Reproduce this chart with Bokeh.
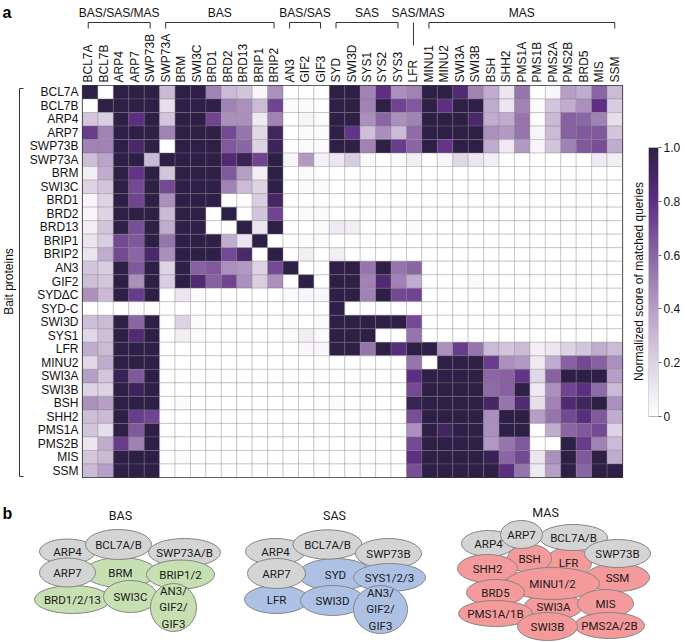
import numpy as np
from bokeh.plotting import figure
from bokeh.models import (Range1d, FixedTicker, LinearAxis, ColumnDataSource, LinearColorMapper)
from bokeh.layouts import row, column
from bokeh.embed import file_html
from bokeh.resources import INLINE
from bokeh.core.properties import value
from bokeh.transform import linear_cmap

# ---------------- data ----------------
bait_proteins = ["BCL7A", "BCL7B", "ARP4", "ARP7", "SWP73B", "SWP73A", "BRM", "SWI3C", "BRD1",
                 "BRD2", "BRD13", "BRIP1", "BRIP2", "AN3", "GIF2", "SYDΔC", "SYD-C", "SWI3D",
                 "SYS1", "LFR", "MINU2", "SWI3A", "SWI3B", "BSH", "SHH2", "PMS1A", "PMS2B",
                 "MIS", "SSM"]
matched_proteins = ["BCL7A", "BCL7B", "ARP4", "ARP7", "SWP73B", "SWP73A", "BRM", "SWI3C", "BRD1",
                    "BRD2", "BRD13", "BRIP1", "BRIP2", "AN3", "GIF2", "GIF3", "SYD", "SWI3D",
                    "SYS1", "SYS2", "SYS3", "LFR", "MINU1", "MINU2", "SWI3A", "SWI3B", "BSH",
                    "SHH2", "PMS1A", "PMS1B", "PMS2A", "PMS2B", "BRD5", "MIS", "SSM"]

# normalized score of matched queries, one row per bait protein
scores = [
    [1, 0, 1, 1, 1, 0.3, 1, 1, 0.5, 0.3, 0.25, 0.05, 0.45, 0, 0, 0, 1, 1, 0.5, 0.8, 0.45, 0.5, 1, 1, 0.85, 0.5, 0.35, 0.12, 0.55, 0, 0.05, 0.4, 0.35, 0.6, 0.3],
    [0, 1, 1, 1, 1, 0.15, 1, 1, 1, 0.5, 0.45, 0.3, 0.72, 0.03, 0.02, 0, 1, 1, 0.5, 1, 0.72, 0.65, 1, 0.8, 1, 1, 0.35, 0.12, 0.5, 0.03, 0.25, 0.35, 0.45, 0.8, 0.22],
    [0.25, 0.22, 1, 0.8, 1, 0.25, 1, 1, 0.72, 0.45, 0.45, 0.1, 0.5, 0, 0.05, 0.02, 1, 1, 0.45, 0.6, 0.45, 0.5, 1, 1, 1, 0.88, 0.35, 0.35, 0.55, 0.02, 0.3, 0.62, 0.6, 0.5, 0.15],
    [0.75, 0.5, 1, 1, 1, 0.5, 1, 1, 1, 0.7, 0.55, 0.18, 0.92, 0, 0.03, 0.02, 1, 0.78, 0.28, 0.45, 0.3, 0.58, 1, 1, 1, 1, 0.45, 0.42, 0.55, 0.05, 0.3, 0.62, 0.65, 0.65, 0.25],
    [0.5, 0.5, 1, 0.88, 1, 0, 1, 1, 1, 0.65, 0.6, 0.2, 0.93, 0, 0.03, 0.02, 1, 1, 0.5, 1, 0.75, 0.6, 1, 0.78, 1, 1, 0.35, 0.1, 0.42, 0.05, 0.25, 0.5, 0.65, 0.68, 0.35],
    [0.28, 0.38, 1, 1, 0.3, 1, 1, 1, 1, 0.85, 0.95, 0.72, 1, 0.05, 0.42, 0.07, 0.12, 0.22, 0.03, 0, 0.03, 0.08, 0, 0.05, 0.18, 0.12, 0.08, 0, 0, 0, 0, 0, 0, 0.1, 0.08],
    [0.08, 0.35, 1, 0.78, 1, 0.25, 1, 1, 1, 0.65, 0.4, 0.08, 1, 0, 0.02, 0, 0, 0, 0, 0, 0, 0, 0, 0, 0, 0, 0, 0, 0, 0, 0, 0, 0, 0, 0],
    [0.2, 0.25, 1, 0.7, 1, 0.7, 1, 1, 1, 0.5, 0.3, 0.2, 1, 0, 0.02, 0.02, 0, 0, 0, 0, 0, 0, 0, 0, 0, 0, 0, 0, 0, 0, 0, 0, 0, 0, 0],
    [0.05, 0.2, 1, 0.72, 1, 0.45, 1, 1, 1, 0, 0, 0.22, 0.9, 0, 0, 0, 0, 0, 0, 0, 0, 0, 0, 0, 0, 0, 0, 0, 0, 0, 0, 0, 0, 0, 0],
    [0.05, 0.2, 1, 1, 1, 0.3, 1, 1, 0, 1, 0, 0.25, 0.72, 0, 0.03, 0.02, 0, 0, 0, 0, 0, 0, 0, 0, 0, 0, 0, 0, 0, 0, 0, 0, 0, 0, 0],
    [0.08, 0.25, 1, 0.68, 1, 0.35, 1, 1, 0, 0, 1, 0.12, 1, 0, 0, 0.02, 0.1, 0.08, 0, 0, 0, 0.02, 0, 0, 0, 0, 0, 0, 0, 0, 0, 0, 0, 0, 0],
    [0.12, 0.22, 0.7, 0.65, 1, 0.55, 1, 1, 1, 0.35, 0.12, 1, 0, 0, 0.02, 0.02, 0, 0, 0, 0, 0, 0, 0, 0, 0, 0, 0, 0, 0, 0, 0, 0, 0, 0, 0],
    [0.12, 0.35, 0.7, 0.6, 0.88, 0.45, 1, 1, 1, 0.7, 0.88, 0, 1, 0, 0.08, 0, 0.08, 0, 0, 0, 0, 0, 0, 0, 0, 0, 0, 0, 0, 0, 0, 0, 0, 0, 0],
    [0.25, 0.22, 1, 0.65, 1, 0.2, 1, 0.62, 0.65, 0.45, 0.42, 0.2, 0.7, 1, 0, 0, 1, 1, 0.55, 1, 0.55, 0.6, 0, 0, 0, 0, 0, 0, 0, 0, 0, 0, 0, 0, 0],
    [0.28, 0.25, 1, 0.45, 1, 0.22, 1, 0.85, 0.62, 0.72, 0.45, 0.22, 0.45, 0, 1, 0, 1, 1, 0.5, 0.85, 0.5, 0.35, 0, 0, 0, 0.03, 0, 0, 0, 0, 0, 0, 0, 0, 0],
    [0.45, 0.3, 1, 0.75, 1, 0, 0.12, 0.03, 0, 0, 0, 0, 0, 0.03, 0.04, 0.04, 1, 1, 0.5, 1, 0.7, 0.72, 0, 0, 0, 0, 0, 0, 0, 0, 0, 0, 0, 0, 0],
    [0, 0, 0, 0.02, 0, 0, 0, 0, 0, 0, 0, 0, 0, 0, 0, 0, 1, 0, 0, 0, 0, 0, 0, 0, 0, 0, 0, 0, 0, 0, 0, 0, 0, 0, 0],
    [0.28, 0.3, 1, 0.6, 1, 0, 0.2, 0.03, 0, 0, 0, 0, 0, 0.02, 0, 0.02, 1, 1, 1, 1, 1, 0.7, 0, 0, 0, 0, 0, 0, 0, 0, 0, 0, 0, 0, 0],
    [0.18, 0.28, 1, 0.85, 1, 0, 0.08, 0.02, 0, 0, 0, 0, 0, 0.02, 0.08, 0.03, 1, 1, 1, 0, 0, 0.55, 0, 0, 0, 0, 0, 0, 0, 0, 0, 0, 0, 0, 0],
    [0.35, 0.3, 1, 1, 1, 0, 0, 0, 0, 0, 0, 0, 0, 0, 0.04, 0.04, 1, 1, 0.55, 1, 0.82, 1, 1, 0.45, 0.75, 0.55, 0.3, 0.25, 0.3, 0.08, 0.12, 0.2, 0.25, 0.35, 0.3],
    [0.18, 0.35, 1, 1, 1, 0, 0, 0, 0, 0, 0, 0, 0, 0, 0, 0, 0, 0, 0, 0, 0, 0.55, 0, 1, 1, 1, 0.75, 0.45, 0.42, 0.1, 0.35, 0.62, 0.7, 0.62, 0.45],
    [0.4, 0.25, 0.95, 0.65, 1, 0, 0, 0, 0, 0, 0, 0, 0, 0, 0, 0, 0, 0, 0, 0, 0, 0.8, 1, 1, 1, 1, 0.6, 0.62, 0.78, 0.18, 0.62, 1, 1, 1, 0.4],
    [0.2, 0.2, 1, 0.93, 1, 0, 0, 0, 0, 0, 0, 0, 0, 0, 0, 0, 0, 0, 0, 0, 0, 0.7, 1, 1, 1, 1, 0.58, 0.62, 1, 0.1, 0.45, 0.72, 0.8, 0.58, 0.3],
    [0.45, 0.4, 1, 1, 1, 0, 0.02, 0, 0, 0, 0, 0, 0, 0, 0, 0, 0.02, 0, 0, 0, 0, 0.95, 1, 1, 1, 1, 0.9, 0.55, 0.85, 0.15, 0.5, 0.85, 0.92, 1, 0.45],
    [0.28, 0.3, 1, 0.75, 0.72, 0, 0, 0, 0, 0, 0, 0, 0, 0, 0, 0, 0, 0, 0, 0, 0, 0.68, 1, 1, 1, 1, 0.45, 1, 1, 0.4, 0.55, 0.7, 0.82, 0.65, 0.35],
    [0.25, 0.15, 1, 0.65, 1, 0, 0, 0, 0, 0, 0, 0, 0, 0, 0, 0, 0, 0, 0, 0, 0, 0.45, 1, 0.92, 1, 1, 0.45, 1, 1, 0, 0.35, 0.6, 0.65, 0.7, 0.2],
    [0.12, 0.35, 0.75, 0.5, 1, 0, 0, 0, 0, 0, 0, 0, 0, 0, 0, 0, 0, 0, 0, 0, 0, 0.7, 1, 1, 1, 1, 0.42, 0.55, 0.65, 0, 0, 1, 0.75, 0.5, 0.3],
    [0.25, 0.3, 1, 1, 1, 0, 0.02, 0, 0, 0, 0, 0, 0, 0, 0, 0, 0, 0, 0, 0, 0, 0.8, 1, 1, 1, 1, 0.95, 0.6, 0.7, 0.12, 0.45, 1, 0.65, 1, 0.35],
    [0.3, 0.4, 1, 1, 1, 0, 0, 0, 0, 0, 0, 0, 0, 0, 0, 0, 0, 0, 0, 0, 0, 0.68, 1, 1, 1, 1, 1, 0.8, 0.55, 0.1, 0.4, 1, 0.6, 1, 1],
]
assert len(scores) == len(bait_proteins)
assert all(len(r) == len(matched_proteins) for r in scores)

# complex groups over the matched-protein columns
group_labels = ["BAS/SAS/MAS", "BAS", "BAS/SAS", "SAS", "SAS/MAS", "MAS"]
group_first = ["BCL7A", "SWP73A", "AN3", "SYD", "LFR", "MINU1"]
group_last = ["SWP73B", "BRIP2", "GIF3", "SYS3", "LFR", "SSM"]

cbar_ticks = [0, 0.2, 0.4, 0.6, 0.8, 1.0]
cbar_tick_labels = ["0", "0.2", "0.4", "0.6", "0.8", "1.0"]

# panel b: subunit composition of each complex ("c" = shared core, "s" = specific)
complex_names = ["BAS", "SAS", "MAS"]
complex_subunits = [
    ["BRM", "BRD1/2/13", "ARP4", "BCL7A/B", "SWP73A/B", "ARP7", "SWI3C", "BRIP1/2", "AN3/\nGIF2/\nGIF3"],
    ["SYD", "LFR", "ARP4", "BCL7A/B", "SWP73B", "ARP7", "SWI3D", "SYS1/2/3", "AN3/\nGIF2/\nGIF3"],
    ["SSM", "LFR", "BSH", "SWI3A", "ARP4", "BCL7A/B", "ARP7", "SWP73B", "SHH2", "MINU1/2", "BRD5",
     "MIS", "PMS1A/1B", "PMS2A/2B", "SWI3B"],
]
complex_kinds = [
    ["s", "s", "c", "c", "c", "c", "s", "s", "s"],
    ["s", "s", "c", "c", "c", "c", "s", "s", "s"],
    ["s", "s", "s", "s", "c", "c", "c", "c", "s", "s", "s", "s", "s", "s", "s"],
]

# ---------------- layout / style (diagram geometry in page pixels) ----------------
diagram_layout = [
    [(120, 572, 36, 15), (72, 599, 38, 14), (67, 551, 28, 12.5), (118, 544, 33, 15),
     (184, 552, 36, 14), (67, 572, 28, 14.5), (130, 596, 27, 16), (180, 574, 34, 14.5),
     (173, 607, 23, 24)],
    [(335, 574, 37, 16), (276, 599, 32, 14), (275, 551, 30, 13), (327, 544, 34.5, 14.7),
     (388, 553, 33, 15), (276, 573, 29, 15), (332, 600, 32, 15), (389, 577, 36, 14),
     (380, 609, 27, 24)],
    [(617, 577, 32, 14), (568, 562, 23, 15), (529, 558, 22, 14), (553, 606, 29, 13),
     (488, 543, 27, 13), (573, 537, 34, 13), (521, 534, 21, 14), (617, 553, 33, 14),
     (487, 568, 30, 14), (552, 583, 47, 16), (495, 592, 29, 13), (605, 603, 28, 14),
     (495, 613, 37, 13), (609, 625, 35, 13), (547, 626, 30, 14)],
]
title_layout = [(120, 515), (334, 515), (545, 512)]
specific_colors = ["#c7e0b2", "#adc1e5", "#f59a9b"]
core_color = "#d4d4d4"

FONT = "Liberation Sans"
DFONT = "Roboto"
TXT = "#111111"

stops = [0.0, 0.2, 0.4, 0.6, 0.8, 1.0]
stop_colors = ["#ffffff", "#ddd3e4", "#b69fc6", "#8b66a5", "#5e2e83", "#2e1f46"]


def _hex(c):
    return np.array([int(c[i:i + 2], 16) for i in (1, 3, 5)], dtype=float)


_t = np.linspace(0, 1, 256)
_rgb = np.stack([np.interp(_t, stops, [_hex(c)[k] for c in stop_colors]) for k in range(3)], axis=1)
palette = ["#%02x%02x%02x" % tuple(int(round(v)) for v in c) for c in _rgb]

NC, NR = len(matched_proteins), len(bait_proteins)
FRAME_L, FRAME_T, FRAME_W, FRAME_H = 80, 85, 542, 392   # heatmap frame, page pixels
CW, CH = FRAME_W / NC, FRAME_H / NR
HEAD_H = 84          # header strip height
LEFT_W = 26          # strip holding "Bait proteins"
MAIN_H = 406         # heatmap figure height
BOT_H = 642 - HEAD_H - MAIN_H


def common(p):
    p.grid.visible = False
    p.background_fill_color = "white"
    p.border_fill_color = "white"
    return p


# ---------------- header strip: group brackets + column labels ----------------
def hx(px):
    return -0.5 + (px - FRAME_L) / CW


def hy(py):
    return HEAD_H - py


pH = common(figure(width=685, height=HEAD_H, x_range=Range1d(hx(0), hx(685)),
                   y_range=Range1d(0, HEAD_H), x_axis_location=None, y_axis_location=None,
                   output_backend="svg", toolbar_location=None, min_border=0))
pH.min_border_left = pH.min_border_right = pH.min_border_top = pH.min_border_bottom = 0
pH.outline_line_color = None

pH.text(x=list(range(NC)), y=[hy(82)] * NC, text=matched_proteins, angle=np.pi / 2,
        text_align="left", text_baseline="middle", text_font=value(FONT),
        text_font_size=value("12px"), text_color=TXT)

gx, gt = [], []
sx0, sy0, sx1, sy1 = [], [], [], []
y_br, y_tick, y_line = hy(22), hy(28), hy(45)
for lab, f, l in zip(group_labels, group_first, group_last):
    i0, i1 = matched_proteins.index(f), matched_proteins.index(l)
    gx.append((i0 + i1) / 2 + (0.3 if i0 == i1 else 0))
    gt.append(lab)
    if i0 == i1:
        sx0 += [i0]; sy0 += [y_br]; sx1 += [i0]; sy1 += [y_line]
    else:
        sx0 += [i0, i0, i1]; sy0 += [y_br, y_br, y_br]
        sx1 += [i1, i0, i1]; sy1 += [y_br, y_tick, y_tick]
pH.segment(x0=sx0, y0=sy0, x1=sx1, y1=sy1, line_color="#333333", line_width=1)
pH.text(x=gx, y=[hy(12)] * len(gx), text=gt, text_align="center", text_baseline="middle",
        text_font=value(FONT), text_font_size=value("12px"), text_color=TXT)
pH.text(x=[hx(2)], y=[hy(12)], text=["a"], text_align="left", text_baseline="alphabetic",
        text_font=value(FONT), text_font_style="bold", text_font_size=value("16px"),
        text_color="#000000")

# ---------------- left strip: "Bait proteins" bracket ----------------
pL = common(figure(width=LEFT_W, height=MAIN_H, x_range=Range1d(0, LEFT_W),
                   y_range=Range1d(0, FRAME_H), x_axis_location=None, y_axis_location=None,
                   output_backend="svg", toolbar_location=None, min_border=0))
pL.min_border_left = pL.min_border_right = 0
pL.min_border_top = FRAME_T - HEAD_H
pL.min_border_bottom = MAIN_H - FRAME_H - (FRAME_T - HEAD_H)
pL.outline_line_color = None
y_top, y_bot = FRAME_H - 3, 1
pL.segment(x0=[19, 19, 19], y0=[y_bot, y_top, y_bot], x1=[19, 23, 23], y1=[y_top, y_top, y_bot],
           line_color="#333333", line_width=1)
pL.text(x=[8], y=[FRAME_H / 2], text=["Bait proteins"], angle=np.pi / 2, text_align="center",
        text_baseline="middle", text_font=value(FONT), text_font_size=value("12px"),
        text_color=TXT)

# ---------------- panel a: heatmap ----------------
xs, ys, vs = [], [], []
for r, rowvals in enumerate(scores):
    for c, v in enumerate(rowvals):
        xs.append(c)
        ys.append(r)
        vs.append(v)
cells = ColumnDataSource(dict(x=xs, y=ys, v=vs))

pA = common(figure(width=FRAME_L - LEFT_W + FRAME_W + 2, height=MAIN_H,
                   x_range=Range1d(-0.5, NC - 0.5), y_range=Range1d(NR - 0.5, -0.5),
                   x_axis_location=None, output_backend="svg", toolbar_location=None))
pA.min_border_left = FRAME_L - LEFT_W
pA.min_border_right = 2
pA.min_border_top = FRAME_T - HEAD_H
pA.min_border_bottom = MAIN_H - FRAME_H - (FRAME_T - HEAD_H)
pA.rect(x="x", y="y", width=1, height=1, source=cells,
        fill_color=linear_cmap("v", palette, 0, 1), line_color="#7f7f7f", line_alpha=0.32,
        line_width=1)
pA.outline_line_color = "#262626"
pA.outline_line_width = 1.2

ya = pA.yaxis[0]
ya.ticker = FixedTicker(ticks=list(range(NR)))
ya.major_label_overrides = {i: n for i, n in enumerate(bait_proteins)}
ya.major_tick_out = 0
ya.major_tick_in = 0
ya.minor_tick_line_color = None
ya.major_tick_line_color = None
ya.axis_line_color = None
ya.major_label_standoff = 4
ya.major_label_text_font = FONT
ya.major_label_text_font_size = "12px"
ya.major_label_text_color = TXT

# ---------------- colorbar ----------------
BAR_T, BAR_B, BAR_L, BAR_W = 147, 416, 648, 10
PC_W = 685 - (FRAME_L + FRAME_W + 2)
bar_px = BAR_B - BAR_T
mapper = LinearColorMapper(palette=palette, low=0, high=1)
pC = common(figure(width=PC_W, height=MAIN_H, x_range=Range1d(0, 1),
                   y_range=Range1d(-(FRAME_T + FRAME_H - BAR_B) / bar_px,
                                   1 + (BAR_T - FRAME_T) / bar_px),
                   x_axis_location=None, y_axis_location="right", output_backend="svg",
                   toolbar_location=None))
pC.min_border_left = BAR_L - (FRAME_L + FRAME_W + 2)
pC.min_border_right = PC_W - pC.min_border_left - BAR_W
pC.min_border_top = FRAME_T - HEAD_H
pC.min_border_bottom = MAIN_H - FRAME_H - (FRAME_T - HEAD_H)
pC.outline_line_color = None
grad = np.linspace(0, 1, 256).reshape(256, 1)
pC.image(image=[grad], x=0, y=0, dw=1, dh=1, color_mapper=mapper)
pC.rect(x=[0.5], y=[0.5], width=1, height=1, fill_color=None, line_color="#b5b5b5",
        line_width=1)
ca = pC.yaxis[0]
ca.ticker = FixedTicker(ticks=cbar_ticks)
ca.major_label_overrides = {t: s for t, s in zip(cbar_ticks, cbar_tick_labels)}
ca.major_tick_out = 3
ca.major_tick_in = 0
ca.minor_tick_line_color = None
ca.major_tick_line_color = "#666666"
ca.axis_line_color = None
ca.major_label_standoff = 2
ca.major_label_text_font = FONT
ca.major_label_text_font_size = "12px"
ca.major_label_text_color = TXT
lax = LinearAxis(ticker=FixedTicker(ticks=[]), axis_label="Normalized score of matched queries",
                 axis_line_color=None, major_tick_line_color=None, minor_tick_line_color=None,
                 major_tick_out=0, major_tick_in=0, major_label_text_font_size="0px",
                 axis_label_text_font=FONT, axis_label_text_font_size="12px",
                 axis_label_text_font_style="normal", axis_label_text_color=TXT,
                 axis_label_standoff=3)
pC.add_layout(lax, "left")

# ---------------- panel b: complex diagrams ----------------
B_TOP = HEAD_H + MAIN_H


def fy(y):
    return y - B_TOP


pB = common(figure(width=685, height=BOT_H, x_range=Range1d(0, 685), y_range=Range1d(BOT_H, 0),
                   x_axis_location=None, y_axis_location=None, output_backend="svg",
                   toolbar_location=None, min_border=0))
pB.min_border_left = pB.min_border_right = pB.min_border_top = pB.min_border_bottom = 0
pB.outline_line_color = None

ex, ey, ew, eh, ec, tt = [], [], [], [], [], []
for k, (subs, kinds, geo) in enumerate(zip(complex_subunits, complex_kinds, diagram_layout)):
    for s, kd, (cx, cy, rx, ry) in zip(subs, kinds, geo):
        ex.append(cx); ey.append(fy(cy))
        ew.append(2 * rx); eh.append(2 * ry)
        ec.append(core_color if kd == "c" else specific_colors[k])
        tt.append(s)
dsrc = ColumnDataSource(dict(x=ex, y=ey, w=ew, h=eh, c=ec, t=tt))
pB.ellipse(x="x", y="y", width="w", height="h", fill_color="c", line_color="#858585",
           line_width=1, source=dsrc)
pB.text(x="x", y="y", text="t", source=dsrc, text_align="center", text_baseline="middle",
        text_font=value(DFONT), text_font_size=value("11.5px"), text_color="#1a1a1a",
        text_line_height=1.2)
pB.text(x=[x for x, _ in title_layout], y=[fy(y) for _, y in title_layout], text=complex_names,
        text_align="center", text_baseline="middle", text_font=value(DFONT),
        text_font_size=value("12.5px"), text_color="#1a1a1a")
pB.text(x=[2], y=[fy(513)], text=["b"], text_align="left", text_baseline="alphabetic",
        text_font=value(FONT), text_font_style="bold", text_font_size=value("16px"),
        text_color="#000000")

layout = column(pH, row(pL, pA, pC), pB)
open("out.html", "w").write(file_html(layout, INLINE))
